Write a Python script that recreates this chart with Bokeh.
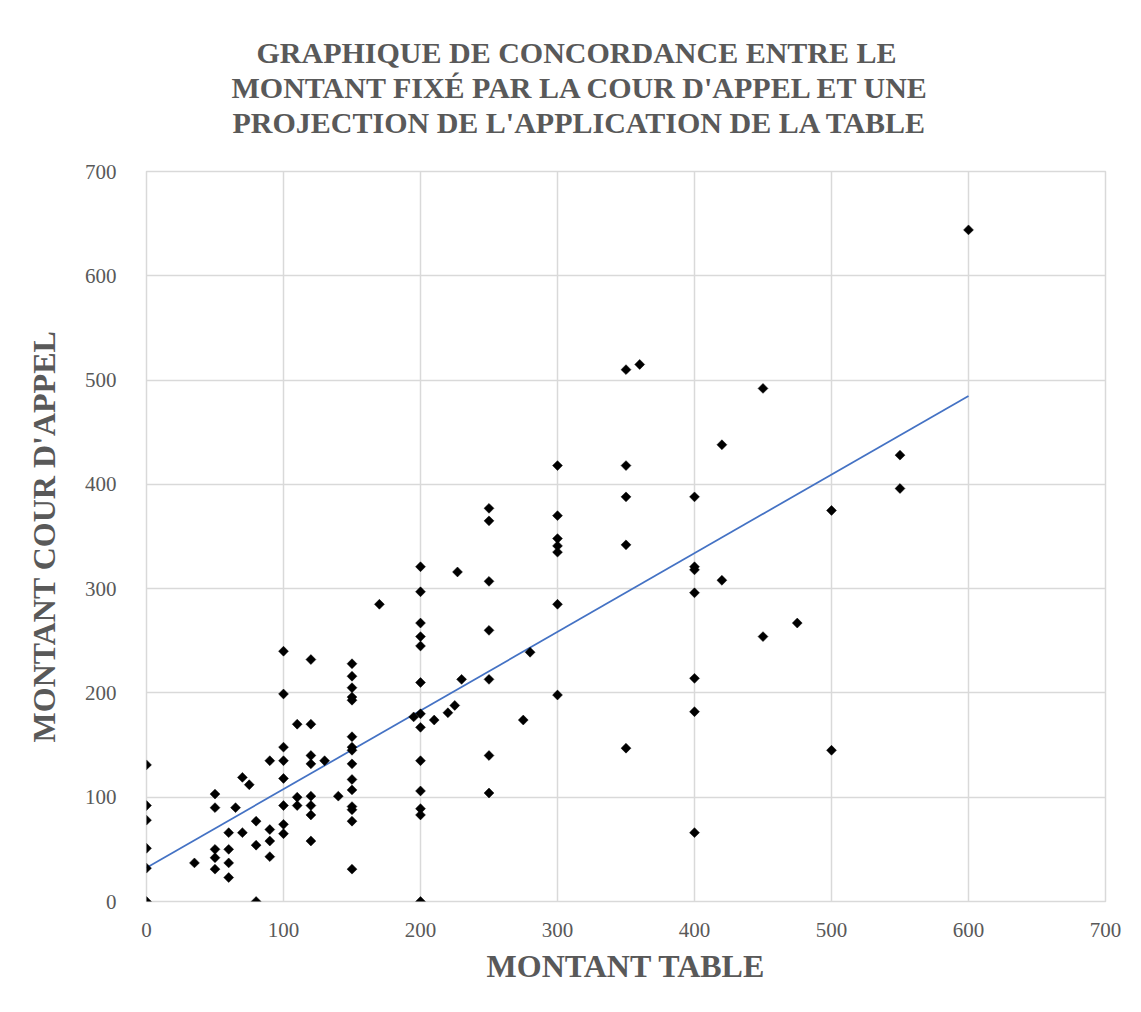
import math
from bokeh.plotting import figure
from bokeh.models import Range1d, FixedTicker, Title, ColumnDataSource
from bokeh.embed import file_html
from bokeh.resources import INLINE

# ---- data ----
montant_table = [
    0, 0, 0, 0, 0, 0,
    35,
    50, 50, 50, 50, 50,
    60, 60, 60, 60,
    65,
    70, 70,
    75,
    80, 80, 80,
    90, 90, 90, 90,
    100, 100, 100, 100, 100, 100, 100, 100,
    110, 110, 110,
    120, 120, 120, 120, 120, 120, 120, 120,
    130,
    140,
    150, 150, 150, 150, 150, 150, 150, 150, 150, 150, 150, 150, 150, 150, 150,
    170,
    195,
    200, 200, 200, 200, 200, 200, 200, 200, 200, 200, 200, 200, 200,
    210,
    220,
    225,
    227,
    230,
    250, 250, 250, 250, 250, 250, 250,
    275,
    280,
    300, 300, 300, 300, 300, 300, 300,
    350, 350, 350, 350, 350,
    360,
    400, 400, 400, 400, 400, 400, 400,
    420, 420,
    450, 450,
    475,
    500, 500,
    550, 550,
    600,
]
montant_cour_appel = [
    131, 92, 78, 51, 32, 0,
    37,
    103, 90, 50, 42, 31,
    66, 50, 37, 23,
    90,
    119, 66,
    112,
    77, 54, 0,
    135, 69, 58, 43,
    240, 199, 148, 135, 118, 92, 74, 65,
    170, 100, 92,
    232, 170, 140, 132, 101, 92, 83, 58,
    135,
    101,
    228, 216, 205, 196, 193, 158, 148, 145, 132, 117, 107, 91, 88, 77, 31,
    285,
    177,
    321, 297, 267, 254, 245, 210, 180, 167, 135, 106, 89, 83, 0,
    174,
    181,
    188,
    316,
    213,
    377, 365, 307, 260, 213, 140, 104,
    174,
    239,
    418, 370, 348, 341, 335, 285, 198,
    510, 418, 388, 342, 147,
    515,
    388, 321, 318, 296, 214, 182, 66,
    438, 308,
    492, 254,
    267,
    375, 145,
    428, 396,
    644,
]
# linear trend line (end points)
trend_x = [0, 600]
trend_y = [32.3, 484.8]

ticks = [0, 100, 200, 300, 400, 500, 600, 700]
title_lines = [
    "GRAPHIQUE DE CONCORDANCE ENTRE LE",
    "MONTANT FIXÉ PAR LA COUR D'APPEL ET UNE",
    "PROJECTION DE L'APPLICATION DE LA TABLE",
]
x_title = "MONTANT TABLE"
y_title = "MONTANT COUR D'APPEL"

GRAY = "#595959"
GRID = "#d9d9d9"
FONT = "Liberation Serif"

W, H = 1130, 1005
BL, BT, FW, FH = 146, 171, 959, 730

p = figure(width=W, height=H, output_backend="svg", toolbar_location=None,
           x_range=Range1d(0, 700), y_range=Range1d(0, 700),
           min_border_left=BL, min_border_top=BT,
           min_border_right=W - BL - FW, min_border_bottom=H - BT - FH)
p.title = None
p.outline_line_color = GRID
p.outline_line_width = 1.5

for ax in (p.xaxis[0], p.yaxis[0]):
    ax.ticker = FixedTicker(ticks=ticks)
    ax.axis_line_color = None
    ax.major_tick_line_color = None
    ax.minor_tick_line_color = None
    ax.major_label_text_font = FONT
    ax.major_label_text_font_size = "21px"
    ax.major_label_text_color = GRAY
    ax.axis_label_text_font = FONT
    ax.axis_label_text_font_size = "32px"
    ax.axis_label_text_font_style = "bold"
    ax.axis_label_text_color = GRAY

p.xaxis.axis_label = x_title
p.yaxis.axis_label = y_title
p.xaxis.major_label_standoff = 15
p.xaxis.axis_label_standoff = 8
p.yaxis.major_label_standoff = 24
p.yaxis.axis_label_standoff = 20
p.yaxis.major_label_orientation = "horizontal"

for g in (p.xgrid[0], p.ygrid[0]):
    g.ticker = FixedTicker(ticks=ticks)
    g.grid_line_color = GRID
    g.grid_line_width = 1.5

src = ColumnDataSource(dict(x=montant_table, y=montant_cour_appel))
p.line(trend_x, trend_y, line_color="#4472C4", line_width=1.75)
p.scatter("x", "y", source=src, marker="square", size=7, angle=math.pi / 4,
          fill_color="black", line_color="black", line_width=0.5)

# title: three lines above the plot, left offsets chosen so each line is centred.
# The last line carries a trailing empty line, which leaves a gap above the frame.
line_offsets = [110, 85, 86]
texts = [title_lines[0], title_lines[1], title_lines[2] + "\n"]
for t, off in zip(reversed(texts), reversed(line_offsets)):
    p.add_layout(Title(text=t, align="left", offset=off, standoff=0,
                       text_font=FONT, text_font_size="30px", text_font_style="bold",
                       text_color=GRAY), "above")

open("out.html", "w").write(file_html(p, INLINE))
